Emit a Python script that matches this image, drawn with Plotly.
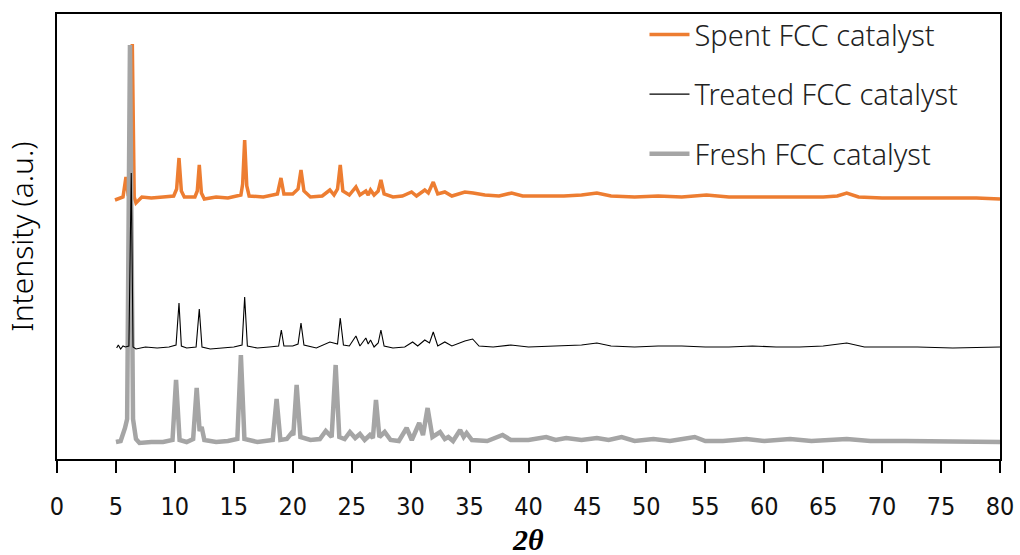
import plotly.graph_objects as go

# ---- data (intensities in arbitrary, offset units) ----
spent_x = [4.92, 5.3, 5.6, 5.85, 6.05, 6.25, 6.39, 6.55, 6.7, 7.2, 8.0, 9.0, 9.9, 10.15, 10.35, 10.55, 10.8,
           11.7, 11.9, 12.07, 12.25, 12.5, 13.5, 14.5, 15.6, 15.75, 15.92, 16.1, 16.3, 17.5, 18.7, 19.0, 19.25,
           20.0, 20.45, 20.7, 20.95, 21.5, 22.5, 23.15, 23.5, 23.8, 24.03, 24.25, 24.8, 25.36, 25.7, 26.2, 26.4,
           26.6, 26.9, 27.25, 27.48, 27.75, 28.5, 29.3, 30.08, 30.5, 31.2, 31.5, 31.92, 32.3, 32.9, 33.5, 34.6,
           35.3, 36.3, 37.5, 38.57, 39.5, 41, 43, 44.5, 45.8, 47, 49, 51, 53, 55.1, 57, 59, 61, 63, 65, 66.2,
           67.0, 68, 70, 72, 74, 76, 78, 80]
spent_y = [259, 261, 262, 282, 263, 300, 415, 262, 256, 262, 261, 262, 263, 270, 301, 268, 262,
           262, 268, 294, 266, 260, 262, 261, 264, 275, 319, 273, 263, 262, 265, 281, 265,
           265, 270, 289, 268, 262, 263, 269, 264, 270, 294, 268, 264, 272, 264, 268, 264,
           269, 264, 268, 279, 265, 262, 263, 267, 263, 269, 266, 277, 265, 267, 263, 267,
           266, 264, 263, 266, 263, 263, 263, 264, 266, 263, 262, 263, 262, 264, 262, 262, 262, 262, 262, 263,
           266, 262, 261, 261, 261, 261, 261, 260]

treated_x = [5.06, 5.2, 5.4, 5.6, 5.8, 6.1, 6.3, 6.45, 6.7, 7.5, 8.5, 9.5, 10.1, 10.35, 10.55, 11.0, 11.8,
             12.07, 12.3, 13, 14, 15, 15.7, 15.92, 16.15, 17, 18, 18.8, 19.03, 19.25, 20.0, 20.45, 20.7, 20.95,
             22, 23.15, 23.8, 24.03, 24.3, 24.8, 25.36, 25.7, 26.2, 26.4, 26.6, 26.9, 27.25, 27.48, 27.75, 28.5,
             29.5, 30.17, 30.6, 31.2, 31.6, 31.92, 32.3, 32.9, 33.5, 34.6, 35.26, 35.8, 37, 38.5, 40, 42, 44.5,
             45.8, 47, 49, 51, 53, 55, 57, 59, 61, 63, 65, 67.0, 68.5, 70, 73, 76, 80]
treated_y = [111, 114, 110, 113, 112, 113, 286, 112, 110, 112, 111, 112, 114, 156, 113, 111, 112,
             150, 112, 110, 111, 112, 114, 162, 113, 111, 112, 113, 129, 113, 113, 115, 136, 114,
             111, 117, 115, 141, 114, 113, 123, 113, 121, 115, 119, 112, 116, 129, 113, 111,
             112, 117, 113, 119, 116, 127, 113, 117, 113, 118, 120, 113, 112, 114, 112, 113, 114,
             116, 113, 112, 113, 113, 112, 112, 113, 112, 112, 113, 116, 112, 112, 112, 111, 112]

fresh_x = [5.0, 5.4, 5.77, 5.95, 6.19, 6.45, 6.7, 7.0, 8, 9, 9.8, 10.1, 10.4, 11.0, 11.55, 11.85, 12.1, 12.27,
           12.5, 13.5, 14.5, 15.3, 15.6, 15.9, 17, 18.3, 18.63, 18.95, 19.5, 19.9, 20.05, 20.33, 20.65, 21.5,
           22.3, 22.8, 23.3, 23.64, 23.95, 24.4, 24.85, 25.3, 25.7, 26.1, 26.55, 26.8, 27.06, 27.35, 27.8, 28.3,
           29.0, 29.66, 30.1, 30.73, 31.05, 31.44, 31.85, 32.5, 32.9, 33.2, 33.6, 34.2, 34.5, 34.75, 35.2, 36.5,
           37.8, 38.5, 40, 41.5, 42.3, 43.2, 44.5, 45.8, 46.8, 47.9, 49, 50.6, 52, 54.1, 55, 56.5, 58.5, 60,
           62.2, 64, 67.0, 69, 72, 75, 78, 80]
fresh_y = [17, 18, 31, 40, 414, 40, 20, 16, 17, 17, 19, 79, 19, 17, 20, 71, 28, 32,
           19, 17, 18, 20, 104, 20, 17, 19, 60, 19, 20, 26, 24, 74, 22, 19,
           20, 28, 22, 94, 22, 20, 27, 21, 25, 19, 24, 21, 59, 22, 27, 19,
           18, 31, 19, 36, 24, 51, 22, 27, 20, 22, 18, 29, 22, 26, 19, 18,
           24, 19, 19, 22, 19, 21, 19, 21, 19, 22, 18, 20, 18, 22, 18, 18, 20, 18,
           20, 18, 20, 18, 18, 18, 17, 17]

x_ticks = list(range(0, 81, 5))

ORANGE = "#ED7D31"
GRAY = "#A5A5A5"
BLACK = "#000000"
TXT_FONT = "'Noto Sans', 'Open Sans', sans-serif"

fig = go.Figure()
fig.add_trace(go.Scatter(x=spent_x, y=spent_y, mode="lines", name="Spent FCC catalyst",
                         line=dict(color=ORANGE, width=3.5), legendrank=1, legendgroup="a"))
fig.add_trace(go.Scatter(x=fresh_x, y=fresh_y, mode="lines", name="Fresh FCC catalyst",
                         line=dict(color=GRAY, width=4.5), legendrank=3, legendgroup="c"))
fig.add_trace(go.Scatter(x=treated_x, y=treated_y, mode="lines", name="Treated FCC catalyst",
                         line=dict(color=BLACK, width=1.1), legendrank=2, legendgroup="b"))

fig.update_layout(
    width=1020, height=555,
    margin=dict(l=57, r=20, t=14, b=96, autoexpand=False),
    paper_bgcolor="white", plot_bgcolor="white",
    showlegend=True,
    legend=dict(x=0.623, y=1.011, xanchor="left", yanchor="top",
                font=dict(family=TXT_FONT, size=29, color="#222222", weight=300),
                bgcolor="rgba(0,0,0,0)", tracegroupgap=19, itemwidth=40),
    xaxis=dict(range=[0, 80], tickmode="array", tickvals=x_ticks, ticktext=[str(v) for v in x_ticks],
               automargin=False,
               showgrid=False, zeroline=False, showline=True, linecolor="black", linewidth=2,
               mirror=True, ticks="outside", ticklen=12, tickwidth=2, tickcolor="black",
               ticklabelstandoff=12,
               tickfont=dict(family="'Liberation Sans Narrow', 'DejaVu Sans Condensed', sans-serif",
                             size=25, color="#111111")),
    yaxis=dict(range=[0, 445], automargin=False,
               showgrid=False, zeroline=False, showline=True, linecolor="black",
               linewidth=2, mirror=True, ticks="", showticklabels=False,
               title=dict(text="Intensity (a.u.)", standoff=13,
                          font=dict(family=TXT_FONT, size=30, color="black", weight=300))),
    annotations=[dict(text="<b><i>2θ</i></b>", xref="paper", yref="paper", x=0.4995, y=-0.182,
                      xanchor="center", yanchor="middle", showarrow=False,
                      font=dict(family="'Liberation Serif', 'Times New Roman', serif", size=30,
                                color="black"))],
)

fig.write_html("out.html")
